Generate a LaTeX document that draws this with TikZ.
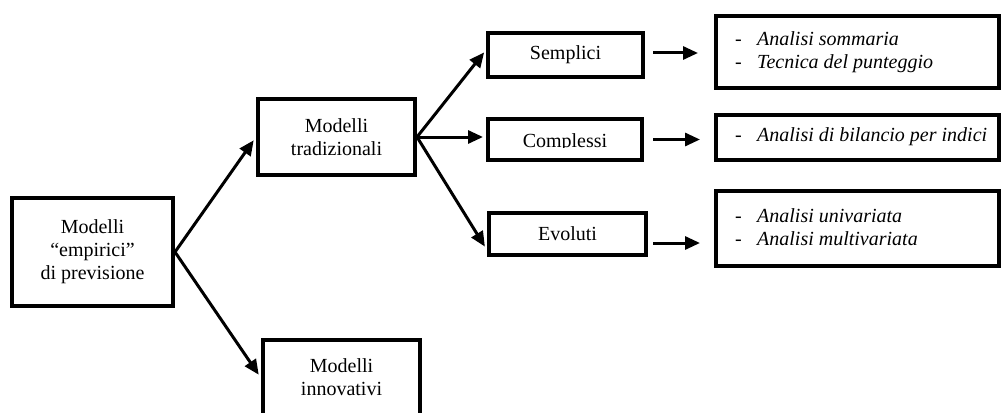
\documentclass[tikz,border=0pt]{standalone}
\usepackage{fontspec}
\setmainfont{Liberation Serif}
\usetikzlibrary{arrows.meta,calc}
\newcommand\itm[1]{\makebox[22pt][l]{-}\textit{#1}}
\begin{document}
\begin{tikzpicture}[x=1pt,y=-1pt,
  box/.style={draw,line width=4pt,inner sep=0pt,align=center,font=\fontsize{20}{23}\selectfont},
  txt/.style={inner sep=0pt,align=left,anchor=west,font=\fontsize{20}{23}\selectfont},
  ctxt/.style={inner sep=0pt,align=center,font=\fontsize{20}{23}\selectfont},
  arr/.style={line width=3pt,-{Triangle[length=15pt,width=13pt]}}]
\useasboundingbox (0,0) rectangle (1003,412);
\clip (0,0) rectangle (1003,412);
% left boxes
\node[box,minimum width=161pt,minimum height=108pt] (emp) at (92.5,252) {Modelli\\“empirici”\\di previsione};
\node[box,minimum width=157pt,minimum height=76pt] (trad) at (336.5,137) {Modelli\\tradizionali};
\node[box,minimum width=157pt,minimum height=98pt] (innov) at (341.5,389) {};
\node[ctxt] (innovtxt) at (341.5,377.5) {Modelli\\innovativi};
% middle boxes
\node[box,minimum width=155pt,minimum height=44pt] (semp) at (565.5,55) {Semplici};
\node[box,minimum width=154pt,minimum height=41pt] (comp) at (565,139.5) {};
\begin{scope}
  \clip (480,100) rectangle (650,147.5);
  \node[ctxt,anchor=base] (comptxt) at (565,147.5) {Complessi};
\end{scope}
\node[box,minimum width=157pt,minimum height=42pt] (evol) at (567.5,234) {Evoluti};
% right boxes
\node[box,minimum width=283pt,minimum height=72pt] (r1) at (857.5,52) {};
\node[box,minimum width=283pt,minimum height=45pt] (r2) at (857.5,137.5) {};
\node[box,minimum width=283pt,minimum height=75pt] (r3) at (857.5,228.5) {};
\node[txt] (t1) at (735,52) {\itm{Analisi sommaria}\\\itm{Tecnica del punteggio}};
\node[txt] (t2) at (735,137) {\itm{Analisi di bilancio per indici}};
\node[txt] (t3) at (735,227) {\itm{Analisi univariata}\\\itm{Analisi multivariata}};
% connectors
\draw[arr,shorten >=4pt] (emp.east) -- (trad.west);
\draw[arr,shorten >=4pt] (emp.east) -- ($(innov.west)+(0,-11)$);
\draw[arr,shorten >=3pt] (trad.east) -- ($(semp.west)+(0,-5)$);
\draw[arr,shorten >=3pt] (trad.east) -- ($(comp.west)+(0,-2.5)$);
\draw[arr,shorten >=4pt] (trad.east) -- ($(evol.west)+(0,16)$);
\draw[arr,shorten <=8pt,shorten >=16pt] ($(semp.east)+(0,-2)$) -- ($(semp.east -| r1.west)+(0,-2)$);
\draw[arr,shorten <=9pt,shorten >=14pt] (comp.east) -- (comp.east -| r2.west);
\draw[arr,shorten <=5pt,shorten >=14pt] ($(evol.east)+(0,9)$) -- ($(evol.east -| r3.west)+(0,9)$);
\end{tikzpicture}
\end{document}
